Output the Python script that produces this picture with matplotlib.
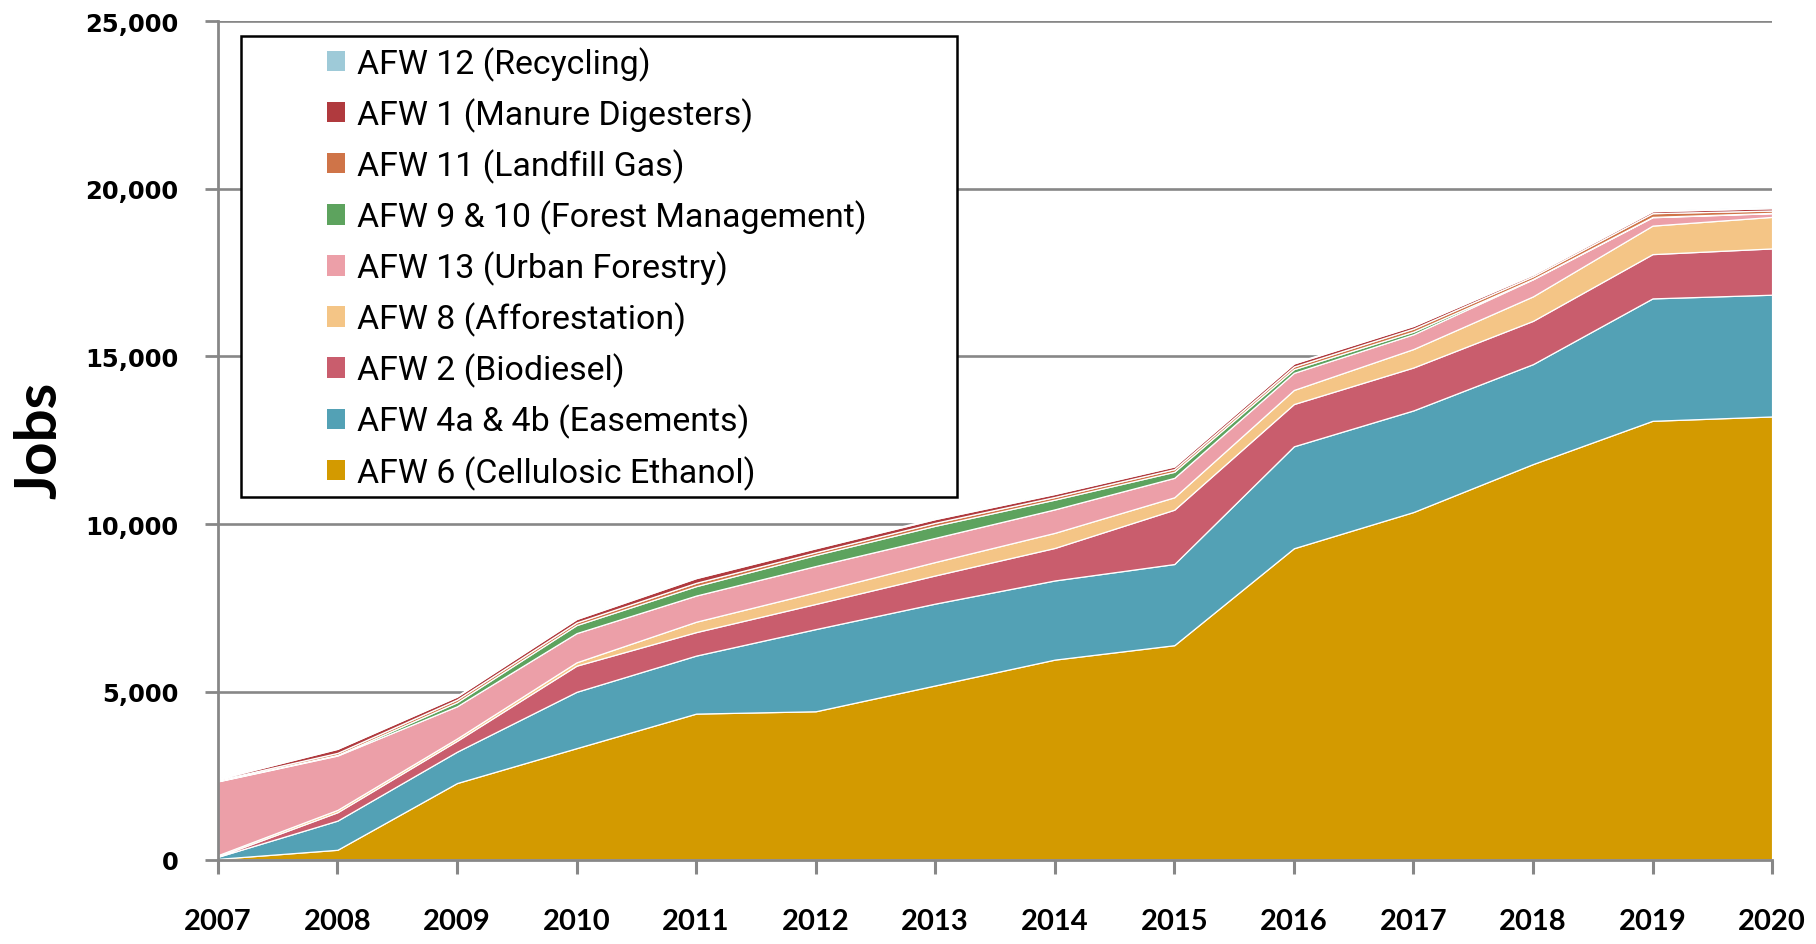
import matplotlib
matplotlib.use("Agg")
import matplotlib.pyplot as plt
from matplotlib.patches import Patch, Rectangle
from matplotlib.ticker import FuncFormatter

# ---- data (jobs per year) ----
years = list(range(2007, 2021))

ethanol       = [20, 290, 2280, 3320, 4350, 4420, 5190, 5960, 6390, 9280, 10360, 11790, 13080, 13210]
easements     = [60, 870, 935, 1680, 1730, 2450, 2440, 2360, 2420, 3040, 3030, 2980, 3650, 3630]
biodiesel     = [10, 250, 325, 780, 700, 750, 840, 970, 1620, 1260, 1280, 1290, 1320, 1380]
afforestation = [40, 70, 70, 100, 310, 350, 400, 450, 370, 420, 550, 730, 850, 940]
urban         = [2200, 1620, 960, 870, 780, 780, 720, 700, 580, 510, 440, 510, 250, 110]
forest        = [10, 20, 120, 240, 280, 330, 360, 290, 180, 110, 80, 10, 10, 10]
landfill      = [30, 60, 80, 80, 100, 80, 90, 80, 80, 80, 90, 80, 110, 70]
manure        = [30, 120, 90, 100, 140, 120, 110, 90, 80, 90, 80, 50, 60, 70]
recycling     = [20, 20, 20, 30, 30, 30, 30, 20, 30, 20, 20, 20, 20, 40]

series_labels = [
    "AFW 6 (Cellulosic Ethanol)",
    "AFW 4a & 4b (Easements)",
    "AFW 2 (Biodiesel)",
    "AFW 8 (Afforestation)",
    "AFW 13 (Urban Forestry)",
    "AFW 9 & 10 (Forest Management)",
    "AFW 11 (Landfill Gas)",
    "AFW 1 (Manure Digesters)",
    "AFW 12 (Recycling)",
]
series_values = [ethanol, easements, biodiesel, afforestation, urban,
                 forest, landfill, manure, recycling]
series_colors = ["#D39A00", "#53A1B5", "#C95D6D", "#F4C586", "#EC9FA8",
                 "#5DA35E", "#CF7448", "#B03A3E", "#9ECAD8"]

yticks = [0, 5000, 10000, 15000, 20000, 25000]

GRID = "#878787"

fig = plt.figure(figsize=(18.16, 9.45), dpi=100)
ax = fig.add_axes([0.120, 0.0894, 0.8558, 0.8873])

ax.stackplot(years, *series_values, colors=series_colors,
             edgecolor="white", linewidth=0.9)

ax.set_xlim(years[0], years[-1])
ax.set_ylim(yticks[0], yticks[-1])
ax.set_xticks(years)
ax.set_yticks(yticks)
ax.yaxis.set_major_formatter(FuncFormatter(lambda v, _: f"{int(v):,}"))

ax.set_axisbelow(True)
ax.grid(axis="y", color=GRID, linewidth=1.9)
for side in ("top", "right"):
    ax.spines[side].set_visible(False)
for side in ("left", "bottom"):
    ax.spines[side].set_color(GRID)
    ax.spines[side].set_linewidth(2.0)

ax.tick_params(axis="y", length=9.5, width=2, color=GRID, pad=19)
ax.tick_params(axis="x", length=10, width=2.2, color=GRID, pad=25)
for lab in ax.get_yticklabels():
    lab.set_fontfamily("DejaVu Sans")
    lab.set_fontweight("bold")
    lab.set_fontsize(17.5)
for lab in ax.get_xticklabels():
    lab.set_fontfamily("Lato")
    lab.set_fontweight("bold")
    lab.set_fontsize(21)

fig.text(40 / 1816, 1 - 440 / 945, "Jobs", rotation=90, ha="center", va="center",
         fontsize=42, fontweight="bold", family="Lato")

# legend: framed box drawn by hand, entries reversed (top layer first)
ax.add_patch(Rectangle((0.0148, 0.4323), 0.4607, 0.5498, transform=ax.transAxes,
                       facecolor="white", edgecolor="black", linewidth=1.8,
                       clip_on=False, zorder=4))
handles = [Patch(facecolor=c, edgecolor="none") for c in series_colors][::-1]
leg = ax.legend(handles, series_labels[::-1], loc="upper left",
                bbox_to_anchor=(0.070, 0.970), frameon=False,
                prop={"family": "Roboto", "size": 24.4},
                handlelength=0.55, handleheight=0.55, handletextpad=0.35,
                labelspacing=0.49, borderpad=0.0, borderaxespad=0.0)
leg.set_zorder(5)

fig.savefig("out.png", dpi=100)
